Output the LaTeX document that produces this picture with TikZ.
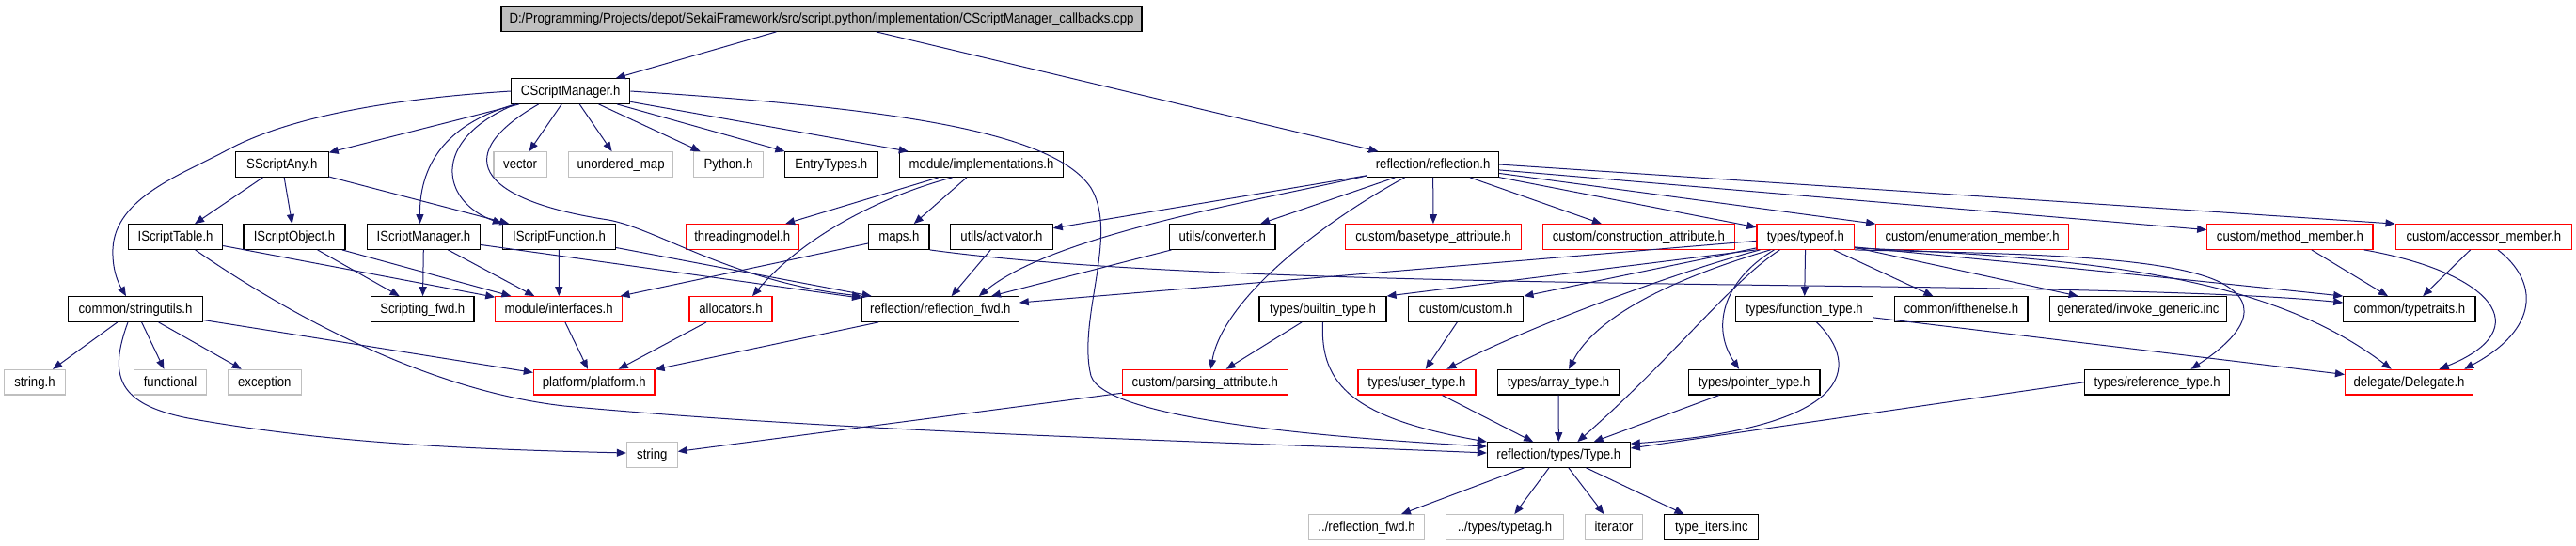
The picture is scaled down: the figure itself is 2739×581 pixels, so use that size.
\documentclass[tikz,border=0pt]{standalone}
\usepackage{fontspec}
\setmainfont{Liberation Sans}[FakeStretch=0.89]
\usetikzlibrary{arrows.meta,calc}
\definecolor{edgeblue}{HTML}{191970}
\definecolor{lgray}{HTML}{BFBFBF}
\definecolor{boxred}{HTML}{FF0000}
\newcommand\dfont{\fontsize{14.8}{16}\selectfont}
\tikzset{
  nbox/.style={draw=black, line width=1.2pt, fill=white, inner sep=0pt,
    minimum height=26.6pt, minimum width=#1pt, text height=11pt, text depth=2.4pt, font=\dfont},
  nred/.style={nbox=#1, draw=boxred},
  ngray/.style={nbox=#1, draw=lgray},
  ntop/.style={nbox=#1, fill=lgray},
  edg/.style={draw=edgeblue, line width=1pt, -{Triangle[length=10pt,width=8pt]}},
}
\begin{document}
\begin{tikzpicture}[x=1pt,y=-1pt]
\useasboundingbox[fill=white] (0,0) rectangle (2739,581);
% row 0
\node[ntop=681] (top) at (873.5,20) {D:/Programming/Projects/depot/SekaiFramework/src/script.python/implementation/CScriptManager\_callbacks.cpp};
% row 1
\node[nbox=126] (csm) at (606.7,97) {CScriptManager.h};
% row 2
\node[nbox=98.7] (ssa) at (299.8,175) {SScriptAny.h};
\node[ngray=56.3] (vec) at (553.1,175) {vector};
\node[ngray=111.2] (umap) at (660.1,175) {unordered\_map};
\node[ngray=73.7] (py) at (774.5,175) {Python.h};
\node[nbox=98.6] (entry) at (883.8,175) {EntryTypes.h};
\node[nbox=173.6] (impl) at (1043.6,175) {module/implementations.h};
\node[nbox=139.8] (refl) at (1523.6,175) {reflection/reflection.h};
% row 3
\node[nbox=100] (ist) at (186.6,252) {IScriptTable.h};
\node[nbox=108] (iso) at (313,252) {IScriptObject.h};
\node[nbox=119.7] (ism) at (450.5,252) {IScriptManager.h};
\node[nbox=120] (isf) at (594.5,252) {IScriptFunction.h};
\node[nred=120] (thr) at (789.2,252) {threadingmodel.h};
\node[nbox=64.3] (maps) at (955.9,252) {maps.h};
\node[nbox=108.5] (act) at (1065,252) {utils/activator.h};
\node[nbox=112.5] (conv) at (1299.7,252) {utils/converter.h};
\node[nred=187] (base) at (1524,252) {custom/basetype\_attribute.h};
\node[nred=204] (constr) at (1742.4,252) {custom/construction\_attribute.h};
\node[nred=103.6] (typeof) at (1919.8,252) {types/typeof.h};
\node[nred=204.6] (enumm) at (2097.1,252) {custom/enumeration\_member.h};
\node[nred=176.3] (meth) at (2434.9,252) {custom/method\_member.h};
\node[nred=187.5] (acc) at (2640.9,252) {custom/accessor\_member.h};
% row 4
\node[nbox=143.3] (strut) at (144,329) {common/stringutils.h};
\node[nbox=109.4] (sfwd) at (449.3,329) {Scripting\_fwd.h};
\node[nred=134.8] (intf) at (594.2,329) {module/interfaces.h};
\node[nred=88] (alloc) at (777,329) {allocators.h};
\node[nbox=166.5] (rfwd) at (999.9,329) {reflection/reflection\_fwd.h};
\node[nbox=135] (builtin) at (1406.5,329) {types/builtin\_type.h};
\node[nbox=122.3] (custom) at (1558.7,329) {custom/custom.h};
\node[nbox=145.5] (functy) at (1918.5,329) {types/function\_type.h};
\node[nbox=141.5] (ifte) at (2085.3,329) {common/ifthenelse.h};
\node[nbox=188.4] (invoke) at (2273.5,329) {generated/invoke\_generic.inc};
\node[nbox=140.2] (ttraits) at (2561.9,329) {common/typetraits.h};
% row 5
\node[ngray=64.3] (strh) at (37,406.7) {string.h};
\node[ngray=76.3] (func) at (181,406.7) {functional};
\node[ngray=77.7] (exc) at (281.3,406.7) {exception};
\node[nred=128.6] (plat) at (631.7,406.7) {platform/platform.h};
\node[nred=175.9] (parse) at (1281.3,406.7) {custom/parsing\_attribute.h};
\node[nred=125] (user) at (1506.4,406.7) {types/user\_type.h};
\node[nbox=129] (array) at (1657.1,406.7) {types/array\_type.h};
\node[nbox=139.7] (pointer) at (1865.1,406.7) {types/pointer\_type.h};
\node[nbox=153.6] (refty) at (2293.6,406.7) {types/reference\_type.h};
\node[nred=136.1] (deleg) at (2561.6,406.7) {delegate/Delegate.h};
% row 6
\node[ngray=53.7] (string) at (693.3,484) {string};
\node[nbox=151.8] (type) at (1657.3,484) {reflection/types/Type.h};
% row 7
\node[ngray=122.8] (rrfwd) at (1453.1,561) {../reflection\_fwd.h};
\node[ngray=124.5] (ttag) at (1600,561) {../types/typetag.h};
\node[ngray=61.2] (iter) at (1716,561) {iterator};
\node[nbox=100] (titers) at (1819.8,561) {type\_iters.inc};

% ---- straight edges
\draw[edg] (top) -- (csm);
\draw[edg] (top) -- (refl);
\draw[edg] (csm) -- (ssa);
\draw[edg] (csm) -- (vec);
\draw[edg] (csm) -- (umap);
\draw[edg] (csm) -- (py);
\draw[edg] (csm) -- (entry);
\draw[edg] (csm) -- (impl);
\draw[edg] (ssa) -- (ist);
\draw[edg] (ssa) -- (iso);
\draw[edg] (ssa) -- (isf);
\draw[edg] (ist) -- (intf);
\draw[edg] (iso) -- (sfwd);
\draw[edg] (iso) -- (intf);
\draw[edg] (ism) -- (sfwd);
\draw[edg] (ism) -- (intf);
\draw[edg] (ism) -- (rfwd);
\draw[edg] (isf) -- (intf);
\draw[edg] (isf) -- (rfwd);
\draw[edg] (impl) -- (thr);
\draw[edg] (impl) -- (maps);
\draw[edg] (maps) -- (intf);
\draw[edg] (act) -- (rfwd);
\draw[edg] (conv) -- (rfwd);
\draw[edg] (refl) -- (act);
\draw[edg] (refl) -- (conv);
\draw[edg] (refl) -- (base);
\draw[edg] (refl) -- (constr);
\draw[edg] (refl) -- (typeof);
\draw[edg] (refl) -- (enumm);
\draw[edg] (refl) -- (meth);
\draw[edg] (refl.east) -- (acc.north west);
\draw[edg] (typeof) -- (rfwd);
\draw[edg] (typeof.south west) -- (builtin.north east);
\draw[edg] ($(typeof.south west)+(0,-2)$) -- (custom.north east);
\draw[edg] (typeof) -- (functy);
\draw[edg] (typeof) -- (ifte);
\draw[edg] (typeof) -- (invoke);
\draw[edg] (custom) -- (user);
\draw[edg] (builtin) -- (parse);
\draw[edg] (user) -- (type);
\draw[edg] (array) -- (type);
\draw[edg] (pointer) -- (type);
\draw[edg] (refty.west) -- ($(type.east)+(0,-7)$);
\draw[edg] (type) -- (rrfwd);
\draw[edg] (type) -- (ttag);
\draw[edg] (type) -- (iter);
\draw[edg] (type) -- (titers);
\draw[edg] (strut) -- (strh);
\draw[edg] (strut) -- (func);
\draw[edg] (strut) -- (exc);
\draw[edg] (strut) -- (plat);
\draw[edg] (intf) -- (plat);
\draw[edg] (alloc) -- (plat);
\draw[edg] (rfwd) -- (plat);
\draw[edg] (parse) -- (string);
\draw[edg] (meth) -- (ttraits);
\draw[edg] (acc) -- (ttraits);
\draw[edg] (functy) -- (deleg);

% ---- curved edges
\draw[edg] ($(csm.south west)+(5,0)$) .. controls (480,130) and (446,170) .. ($(ism.north)+(-4,0)$);
\draw[edg] ($(csm.south west)+(5,0)$) .. controls (455,150) and (470,215) .. (isf.north west);
\draw[edg] ($(csm.south)+(-34,0)$) .. controls (470,170) and (520,215) .. (647,234)
   .. controls (700,244) and (780,300) .. (rfwd.north west);
\draw[edg] (csm.west) .. controls (400,106) and (300,128) .. (241,160)
   .. controls (195,185) and (122,210) .. (120,265)
   .. controls (119,290) and (128,305) .. ($(strut.north)+(-10,0)$);
\draw[edg] (csm.east) .. controls (950,115) and (1120,140) .. (1160,200)
   .. controls (1190,250) and (1145,340) .. (1160,400)
   .. controls (1175,445) and (1400,465) .. ($(type.north west)+(0,5)$);
\draw[edg] ($(ist.south)+(21,0)$) .. controls (300,330) and (450,415) .. (600,432)
   .. controls (900,460) and (1300,470) .. ($(type.west)+(0,-2)$);
\draw[edg] (builtin.south) .. controls (1403,410) and (1440,445) .. (type.north west);
\draw[edg] ($(impl.south)+(-31,0)$) .. controls (950,205) and (860,245) .. ($(alloc.north)+(23,0)$);
\draw[edg] ($(refl.west)+(0,12)$) .. controls (1330,215) and (1120,250) .. ($(rfwd.north)+(41,0)$);
\draw[edg] ($(refl.south)+(-30,0)$) .. controls (1400,240) and (1300,320) .. ($(parse.north)+(6,0)$);
\draw[edg] (maps.south east) .. controls (1200,295) and (1600,300) .. (2000,305)
   .. controls (2300,309) and (2420,315) .. ($(ttraits.west)+(0,-7)$);
\draw[edg] ($(typeof.south west)+(4,0)$) .. controls (1780,290) and (1620,350) .. ($(user.north)+(32,0)$);
\draw[edg] ($(typeof.south west)+(15,0)$) .. controls (1800,290) and (1700,330) .. ($(array.north)+(11,0)$);
\draw[edg] ($(typeof.south west)+(25,0)$) .. controls (1840,300) and (1780,380) .. ($(type.north)+(20,0)$);
\draw[edg] ($(typeof.south west)+(19,0)$) .. controls (1830,300) and (1820,350) .. ($(pointer.north)+(-16,0)$);
\draw[edg] ($(typeof.south east)+(0,-3)$) .. controls (2150,280) and (2350,300) .. (ttraits.north west);
\draw[edg] ($(typeof.south east)+(0,-2)$) .. controls (2250,275) and (2420,300) .. ($(deleg.north)+(-19,0)$);
\draw[edg] (typeof.south east) .. controls (2150,270) and (2300,272) .. (2360,300)
   .. controls (2410,325) and (2380,360) .. ($(refty.north)+(36,0)$);
\draw[edg] ($(meth.south east)+(-10,0)$) .. controls (2650,290) and (2700,350) .. ($(deleg.north)+(32,0)$);
\draw[edg] ($(acc.south)+(15,0)$) .. controls (2700,300) and (2700,350) .. ($(deleg.north east)+(-10,0)$);
\draw[edg] ($(functy.south)+(13,0)$) .. controls (1980,390) and (1970,455) .. ($(type.north east)+(0,2)$);
\draw[edg] ($(strut.south)+(-8,0)$) .. controls (115,400) and (125,430) .. (200,445)
   .. controls (350,472) and (500,478) .. ($(string.west)+(0,-2)$);
\end{tikzpicture}
\end{document}
